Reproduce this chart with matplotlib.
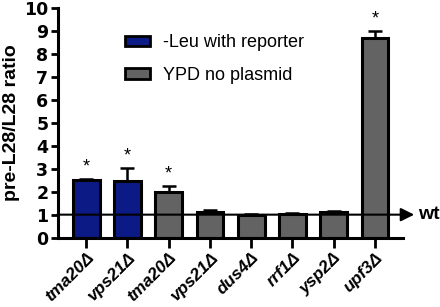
import matplotlib
matplotlib.use("Agg")
import matplotlib.pyplot as plt
from matplotlib.transforms import ScaledTranslation

labels = ["tma20Δ", "vps21Δ", "tma20Δ", "vps21Δ", "dus4Δ", "rrf1Δ", "ysp2Δ", "upf3Δ"]
values = [2.5, 2.48, 1.97, 1.1, 0.97, 1.01, 1.1, 8.7]
errors = [0.06, 0.56, 0.27, 0.1, 0.08, 0.05, 0.07, 0.3]
groups = ["blue", "blue", "gray", "gray", "gray", "gray", "gray", "gray"]
starred = [True, True, True, False, False, False, False, True]

colors = {"blue": "#0c1a86", "gray": "#636363"}
legend_names = {"blue": "-Leu with reporter", "gray": "YPD no plasmid"}

plt.rcParams['font.family'] = ['Liberation Sans', 'DejaVu Sans']

fig = plt.figure(figsize=(4.4, 3.07), dpi=100)
ax = fig.add_axes([0.132, 0.226, 0.784, 0.748])

x = list(range(len(labels)))
for i in x:
    ax.bar(i, values[i], width=0.65, color=colors[groups[i]], edgecolor="black",
           linewidth=2.2, zorder=2)
    ax.errorbar(i, values[i], yerr=[[0], [errors[i]]], ecolor="black",
                elinewidth=1.8, capsize=5, capthick=1.8, fmt="none", zorder=1)
    if starred[i]:
        ax.text(i, values[i] + errors[i] + 0.15, "*", ha="center", va="bottom",
                fontsize=13)

# wt reference line with arrow
ax.annotate("", xy=(7.95, 1), xytext=(-0.7, 1),
            arrowprops=dict(arrowstyle="-|>", color="black", lw=1.5,
                            mutation_scale=20, shrinkA=0, shrinkB=0),
            annotation_clip=False, zorder=3)
ax.text(8.05, 1, "wt", ha="left", va="center", fontsize=14, fontweight="bold")

for g in ["blue", "gray"]:
    ax.bar([0], [0], color=colors[g], edgecolor="black", linewidth=2,
           label=legend_names[g])
ax.legend(loc="upper left", bbox_to_anchor=(0.194, 0.885), frameon=False,
          fontsize=13, handlelength=1.4, handleheight=0.55, borderpad=0,
          borderaxespad=0, labelspacing=0.85, handletextpad=0.7)

ax.set_xlim(-0.68, 7.68)
ax.set_ylim(0, 10)
ax.set_yticks(range(0, 11))
ax.set_xticks(x)
ax.set_xticklabels(labels, rotation=45, ha="right", rotation_mode="anchor",
                   fontsize=12.5, fontweight="bold", fontstyle="italic")
shift = ScaledTranslation(8 / 100, 0, fig.dpi_scale_trans)
for t in ax.get_xticklabels():
    t.set_transform(t.get_transform() + shift)
for t in ax.get_yticklabels():
    t.set_family("DejaVu Sans")
    t.set_fontweight("bold")
    t.set_fontsize(12.5)
ax.set_ylabel("pre-L28/L28 ratio", fontsize=14, fontweight="bold", labelpad=3)

for s in ["top", "right"]:
    ax.spines[s].set_visible(False)
for s in ["left", "bottom"]:
    ax.spines[s].set_linewidth(2.2)
ax.tick_params(axis="both", width=2, direction="out", pad=2)
ax.tick_params(axis="x", length=7, pad=2)
ax.tick_params(axis="y", length=5)

fig.savefig("out.png", dpi=100)
